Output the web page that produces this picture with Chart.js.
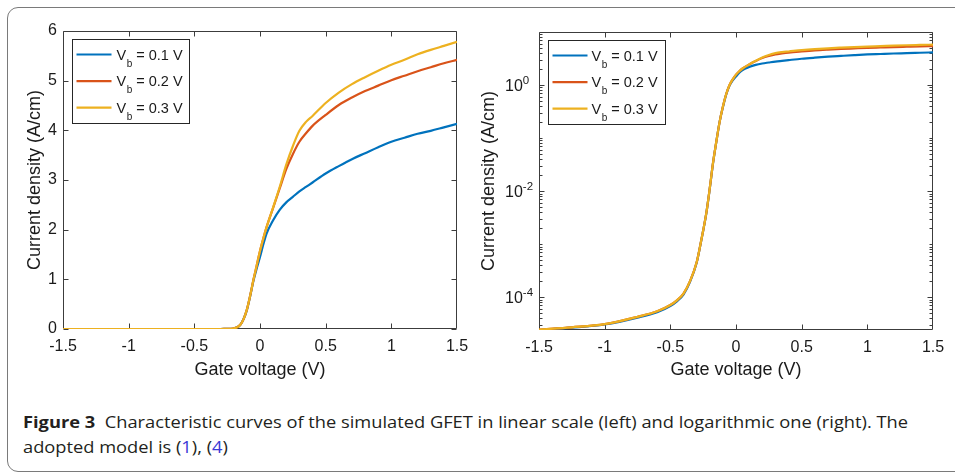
<!DOCTYPE html>
<html><head><meta charset="utf-8">
<script src="https://cdn.jsdelivr.net/npm/chart.js@4.4.1/dist/chart.umd.min.js"></script>
<style>
html,body{margin:0;padding:0;background:#fff;width:955px;height:474px;overflow:hidden;position:relative;}
#frame{position:absolute;left:7px;top:7px;width:990px;height:465px;border:1.5px solid #7a7a7a;border-radius:11px;box-sizing:border-box;}
#c1{position:absolute;left:0;top:0;}
#c2{position:absolute;left:470px;top:0;}
#cap{position:absolute;left:23px;top:410px;font-family:"Open Sans";font-size:16.5px;line-height:24.5px;color:#231f20;white-space:nowrap;transform-origin:0 0;}
#cap b{font-weight:700;}
#cap .ref{color:#3b3bd6;}
</style></head>
<body>
<div id="frame"></div>
<canvas id="c1" width="480" height="392"></canvas>
<canvas id="c2" width="485" height="392"></canvas>
<div id="cap"><span id="l1"><b>Figure 3</b>&nbsp; Characteristic curves of the simulated GFET in linear scale (left) and logarithmic one (right). The</span><br><span id="l2">adopted model is (<span class="ref">1</span>), (<span class="ref">4</span>)</span></div>
<script>
// ---- data ----
const gateVoltage = [-1.5, -1.25, -1.0, -0.75, -0.6, -0.5, -0.45, -0.4, -0.35, -0.3, -0.275, -0.25, -0.225, -0.2, -0.175, -0.15, -0.125, -0.1, -0.075, -0.05, -0.025, 0, 0.025, 0.05, 0.1, 0.15, 0.2, 0.25, 0.3, 0.35, 0.4, 0.5, 0.6, 0.7, 0.8, 0.9, 1.0, 1.1, 1.2, 1.3, 1.4, 1.5];
const currentVb01 = [2.40e-5, 2.65e-5, 3.05e-5, 4.1e-5, 5.2e-5, 6.8e-5, 8.3e-5, 1.12e-4, 1.95e-4, 4.4e-4, 8.6e-4, 1.78e-3, 3.95e-3, 1.1e-2, 3.35e-2, 8.4e-2, 0.20, 0.38, 0.66, 0.97, 1.22, 1.45, 1.70, 1.92, 2.19, 2.40, 2.55, 2.66, 2.77, 2.86, 2.95, 3.13, 3.28, 3.42, 3.54, 3.66, 3.77, 3.85, 3.93, 3.99, 4.06, 4.13];
const currentVb02 = [2.45e-5, 2.7e-5, 3.1e-5, 4.25e-5, 5.4e-5, 7.1e-5, 8.7e-5, 1.17e-4, 2.0e-4, 4.5e-4, 8.7e-4, 1.8e-3, 4.0e-3, 1.12e-2, 3.4e-2, 8.5e-2, 0.20, 0.39, 0.67, 0.99, 1.28, 1.57, 1.82, 2.05, 2.44, 2.83, 3.22, 3.52, 3.77, 3.94, 4.09, 4.31, 4.51, 4.66, 4.79, 4.90, 5.01, 5.10, 5.19, 5.27, 5.35, 5.42];
const currentVb03 = [2.45e-5, 2.7e-5, 3.1e-5, 4.25e-5, 5.4e-5, 7.1e-5, 8.7e-5, 1.17e-4, 2.0e-4, 4.5e-4, 8.7e-4, 1.8e-3, 4.0e-3, 1.12e-2, 3.4e-2, 8.5e-2, 0.20, 0.39, 0.67, 0.99, 1.28, 1.57, 1.82, 2.05, 2.45, 2.86, 3.31, 3.68, 3.99, 4.17, 4.29, 4.55, 4.76, 4.93, 5.07, 5.20, 5.32, 5.42, 5.53, 5.62, 5.70, 5.78];
const seriesVb = ['0.1', '0.2', '0.3'];
const seriesColors = ['#0072BD', '#D95319', '#EDB120'];
const xTickLabels = ['-1.5', '-1', '-0.5', '0', '0.5', '1', '1.5'];
const linTickLabels = ['0', '1', '2', '3', '4', '5', '6'];
const logTickValues = [1e-4, 1e-2, 1];
const logTickExponents = ['-4', '-2', '0'];
const logMin = 2.4e-5, logMax = 10;
const xTitle = 'Gate voltage (V)';
const yTitle = 'Current density (A/cm)';

const FONT = '"Liberation Sans", Arial, Helvetica, sans-serif';
const TXT = '#1a1a1a';
const AXC = '#3c3c3c';

function makeDatasets() {
  return [currentVb01, currentVb02, currentVb03].map((arr, i) => ({
    label: 'Vb = ' + seriesVb[i] + ' V',
    data: gateVoltage.map((v, j) => ({x: v, y: arr[j]})),
    borderColor: seriesColors[i],
    backgroundColor: seriesColors[i],
    borderWidth: 2.2,
    pointRadius: 0,
    fill: false,
    cubicInterpolationMode: 'monotone',
    order: 3 - i
  }));
}

function isMajorLog(v) { return logTickValues.findIndex(t => Math.abs(v / t - 1) < 1e-6); }
function intMantissa(v) {
  const e = Math.floor(Math.log10(v) + 1e-9);
  const m = v / Math.pow(10, e);
  return Math.abs(m - Math.round(m)) < 1e-6;
}

const matlabAxes = {
  id: 'matlabAxes',
  beforeDatasetsDraw(chart, args, opts) {
    const {ctx, chartArea: a, scales} = chart;
    const xs = scales.x, ys = scales.y;
    const L = Math.round(a.left) + 0.5, R = Math.round(a.right) - 0.5;
    const T = Math.round(a.top) + 0.5, B = Math.round(a.bottom) - 0.5;
    ctx.save();
    ctx.strokeStyle = AXC; ctx.lineWidth = 1;
    ctx.beginPath();
    ctx.rect(L, T, R - L, B - T);
    xs.ticks.forEach(t => {
      const p = Math.round(xs.getPixelForValue(t.value)) + 0.5;
      if (p <= L + 1 || p >= R - 1) return;
      ctx.moveTo(p, B); ctx.lineTo(p, B - 5);
      ctx.moveTo(p, T); ctx.lineTo(p, T + 5);
    });
    ys.ticks.forEach(t => {
      if (t.value < ys.min || t.value > ys.max) return;
      const p = Math.round(ys.getPixelForValue(t.value)) + 0.5;
      let len = 5;
      if (opts.log) len = isMajorLog(t.value) >= 0 ? 5 : 3;
      ctx.moveTo(L, p); ctx.lineTo(L + len, p);
      ctx.moveTo(R, p); ctx.lineTo(R - len, p);
    });
    ctx.stroke();
    // log tick labels with real superscripts
    if (opts.log) {
      ctx.fillStyle = TXT; ctx.textAlign = 'left'; ctx.textBaseline = 'alphabetic';
      logTickValues.forEach((v, i) => {
        const p = ys.getPixelForValue(v);
        let tx = a.left - 34;
        ctx.font = '16px ' + FONT;
        ctx.fillText('10', tx, p + 5.8);
        tx += ctx.measureText('10').width;
        ctx.font = '11.5px ' + FONT;
        ctx.fillText(logTickExponents[i], tx, p - 0.8);
      });
    }
    ctx.restore();
  },
  afterDraw(chart, args, opts) {
    const {ctx, chartArea: a} = chart;
    ctx.save();
    const bx = Math.round(a.left) + 9.5, by = Math.round(a.top) + 8.5, bw = 117, bh = 84;
    ctx.fillStyle = '#fff';
    ctx.fillRect(bx, by, bw, bh);
    ctx.strokeStyle = '#262626'; ctx.lineWidth = 1;
    ctx.strokeRect(bx, by, bw, bh);
    chart.data.datasets.forEach((ds, i) => {
      const ry = by + 15 + i * 26.6;
      ctx.strokeStyle = ds.borderColor; ctx.lineWidth = 2.2;
      ctx.beginPath(); ctx.moveTo(bx + 4, ry); ctx.lineTo(bx + 39, ry); ctx.stroke();
      ctx.fillStyle = TXT; ctx.textAlign = 'left'; ctx.textBaseline = 'alphabetic';
      let tx = bx + opts.textOff;
      ctx.font = '14.5px ' + FONT;
      ctx.fillText('V', tx, ry + 5);
      tx += ctx.measureText('V').width + 0.5;
      ctx.font = '10px ' + FONT;
      ctx.fillText('b', tx, ry + 12);
      tx += ctx.measureText('b').width;
      ctx.font = '14.5px ' + FONT;
      ctx.fillText(' = ' + seriesVb[i] + ' V', tx, ry + 5);
    });
    ctx.restore();
  }
};

function xScale(titlePad, h) {
  return {
    type: 'linear', min: -1.5, max: 1.5,
    ticks: {stepSize: 0.5, callback: (v, i) => xTickLabels[i], font: {family: FONT, size: 16}, color: TXT, padding: 8, maxRotation: 0, autoSkip: false},
    grid: {display: false, drawTicks: false},
    border: {display: false},
    title: {display: true, text: xTitle, font: {family: FONT, size: 18}, color: TXT, padding: {top: 0, bottom: titlePad}},
    afterFit: s => { s.height = h; }
  };
}

new Chart(document.getElementById('c1'), {
  type: 'line',
  data: {datasets: makeDatasets()},
  options: {
    responsive: false, animation: false, devicePixelRatio: 1,
    layout: {padding: {top: 31, right: 23, bottom: 0, left: 0}},
    plugins: {legend: {display: false}, tooltip: {enabled: false}, matlabAxes: {log: false, textOff: 44}},
    scales: {
      x: xScale(11.2, 392 - 329),
      y: {
        type: 'linear', min: 0, max: 6,
        ticks: {stepSize: 1, callback: (v, i) => linTickLabels[i], font: {family: FONT, size: 16}, color: TXT, padding: 6, autoSkip: false},
        grid: {display: false, drawTicks: false},
        border: {display: false},
        title: {display: true, text: yTitle, font: {family: FONT, size: 18}, color: TXT, padding: {top: 24.5, bottom: 0}},
        afterFit: s => { s.width = 63; }
      }
    }
  },
  plugins: [matlabAxes]
});

new Chart(document.getElementById('c2'), {
  type: 'line',
  data: {datasets: makeDatasets()},
  options: {
    responsive: false, animation: false, devicePixelRatio: 1,
    layout: {padding: {top: 32, right: 22, bottom: 0, left: 0}},
    plugins: {legend: {display: false}, tooltip: {enabled: false}, matlabAxes: {log: true, textOff: 43}},
    scales: {
      x: xScale(11.2, 392 - 330),
      y: {
        type: 'logarithmic', min: logMin, max: logMax,
        afterBuildTicks: s => { s.ticks = s.ticks.filter(t => intMantissa(t.value)); },
        ticks: {display: false, autoSkip: false},
        grid: {display: false, drawTicks: false},
        border: {display: false},
        title: {display: true, text: yTitle, font: {family: FONT, size: 18}, color: TXT, padding: {top: 8, bottom: 0}},
        afterFit: s => { s.width = 69; }
      }
    }
  },
  plugins: [matlabAxes]
});

// caption fit
const l1 = document.getElementById('l1');
const w = l1.getBoundingClientRect().width;
const k = 885 / w;
document.getElementById('cap').style.transform = 'scaleX(' + k.toFixed(4) + ')';
</script>
</body></html>
